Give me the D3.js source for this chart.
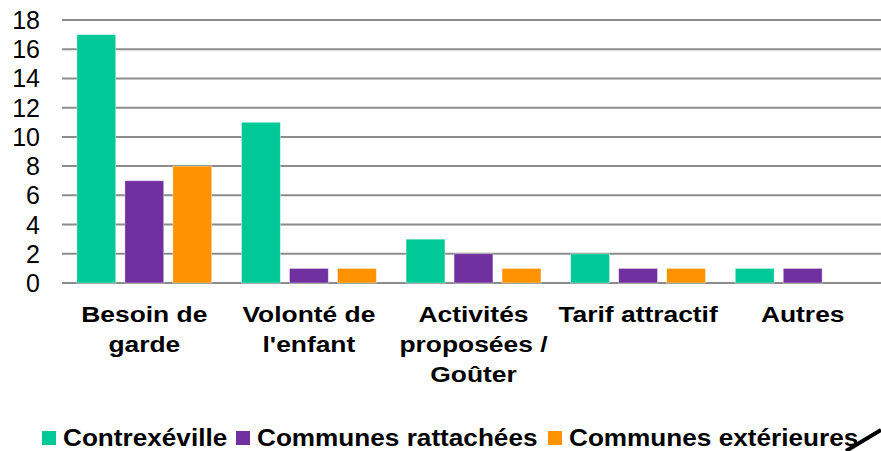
<!DOCTYPE html>
<html>
<head>
<meta charset="utf-8" />
<script src="https://cdn.jsdelivr.net/npm/d3@7"></script>
<style>
body { margin: 0; background: #fff; }
text { font-family: Arial, "Liberation Sans", sans-serif; fill: #000; }
</style>
</head>
<body>
<div id="chart"></div>
<script>
const categories = ["Besoin de garde", "Volonté de l'enfant", "Activités proposées / Goûter", "Tarif attractif", "Autres"];
const catLines = [["Besoin de", "garde"], ["Volonté de", "l'enfant"], ["Activités", "proposées /", "Goûter"], ["Tarif attractif"], ["Autres"]];
const seriesNames = ["Contrexéville", "Communes rattachées", "Communes extérieures"];
const contrexeville = [17, 11, 3, 2, 1];
const rattachees = [7, 1, 2, 1, 1];
const exterieures = [8, 1, 1, 1, 0];
const yTicks = [0, 2, 4, 6, 8, 10, 12, 14, 16, 18];
const colors = ["#00C896", "#7030A0", "#FF9200"];

const series = [contrexeville, rattachees, exterieures];
const width = 881, height = 451;
const margin = {top: 20, right: -4, bottom: 168, left: 62};

const svg = d3.select("#chart").append("svg")
	.attr("width", width)
	.attr("height", height);

const x = d3.scaleBand()
	.domain(categories)
	.range([margin.left, width - margin.right])
	.paddingInner(0).paddingOuter(0);
const xs = d3.scaleBand()
	.domain(d3.range(series.length))
	.range([0, x.bandwidth()])
	.paddingInner(0.19).paddingOuter(0.31);
const y = d3.scaleLinear().domain([0, 18]).range([height - margin.bottom, margin.top]);

// gridlines
svg.append("g").selectAll("line")
	.data(yTicks)
	.enter().append("line")
	.attr("x1", margin.left).attr("x2", width)
	.attr("y1", d => y(d)).attr("y2", d => y(d))
	.attr("stroke", "#8c8c8c").attr("stroke-width", 2);

// y labels
svg.append("g").selectAll("text")
	.data(yTicks)
	.enter().append("text")
	.attr("x", 40).attr("y", d => y(d))
	.attr("dy", "0.36em")
	.attr("text-anchor", "end")
	.attr("font-size", 25)
	.text(d => d);

// bars
series.forEach(function(vals, si){
	svg.append("g").selectAll("rect")
		.data(vals)
		.enter().append("rect")
		.attr("x", (d, i) => x(categories[i]) + xs(si))
		.attr("width", xs.bandwidth())
		.attr("y", d => y(d))
		.attr("height", d => y(0) - y(d))
		.attr("fill", colors[si])
		.attr("stroke", "#ffffff").attr("stroke-opacity", 0.5).attr("stroke-width", 0.8);
});

// category labels (text in the picture is a bit wide, so stretch it)
const lab = svg.append("g");
catLines.forEach(function(lines, i){
	const cx = x(categories[i]) + x.bandwidth() / 2;
	const t = lab.append("text")
		.attr("transform", "translate(" + cx + ",322) scale(1.2,1)")
		.attr("text-anchor", "middle")
		.attr("font-size", 22).attr("font-weight", "bold");
	lines.forEach(function(l, j){
		t.append("tspan").attr("x", 0)
			.attr("y", j * 30).text(l);
	});
});

// legend
const legX = [42, 236, 548];
const leg = svg.append("g");
seriesNames.forEach(function(n, i){
	leg.append("rect").attr("x", legX[i]).attr("y", 431).attr("width", 14).attr("height", 14).attr("fill", colors[i]);
	leg.append("text")
		.attr("transform", "translate(" + (legX[i] + 21) + ",446) scale(1.09,1)")
		.attr("font-size", 24).attr("font-weight", "bold").text(n);
});

// stray stroke at the corner
svg.append("line").attr("x1", 846).attr("y1", 451).attr("x2", 881).attr("y2", 430)
	.attr("stroke", "#000").attr("stroke-width", 4);
</script>
</body>
</html>
